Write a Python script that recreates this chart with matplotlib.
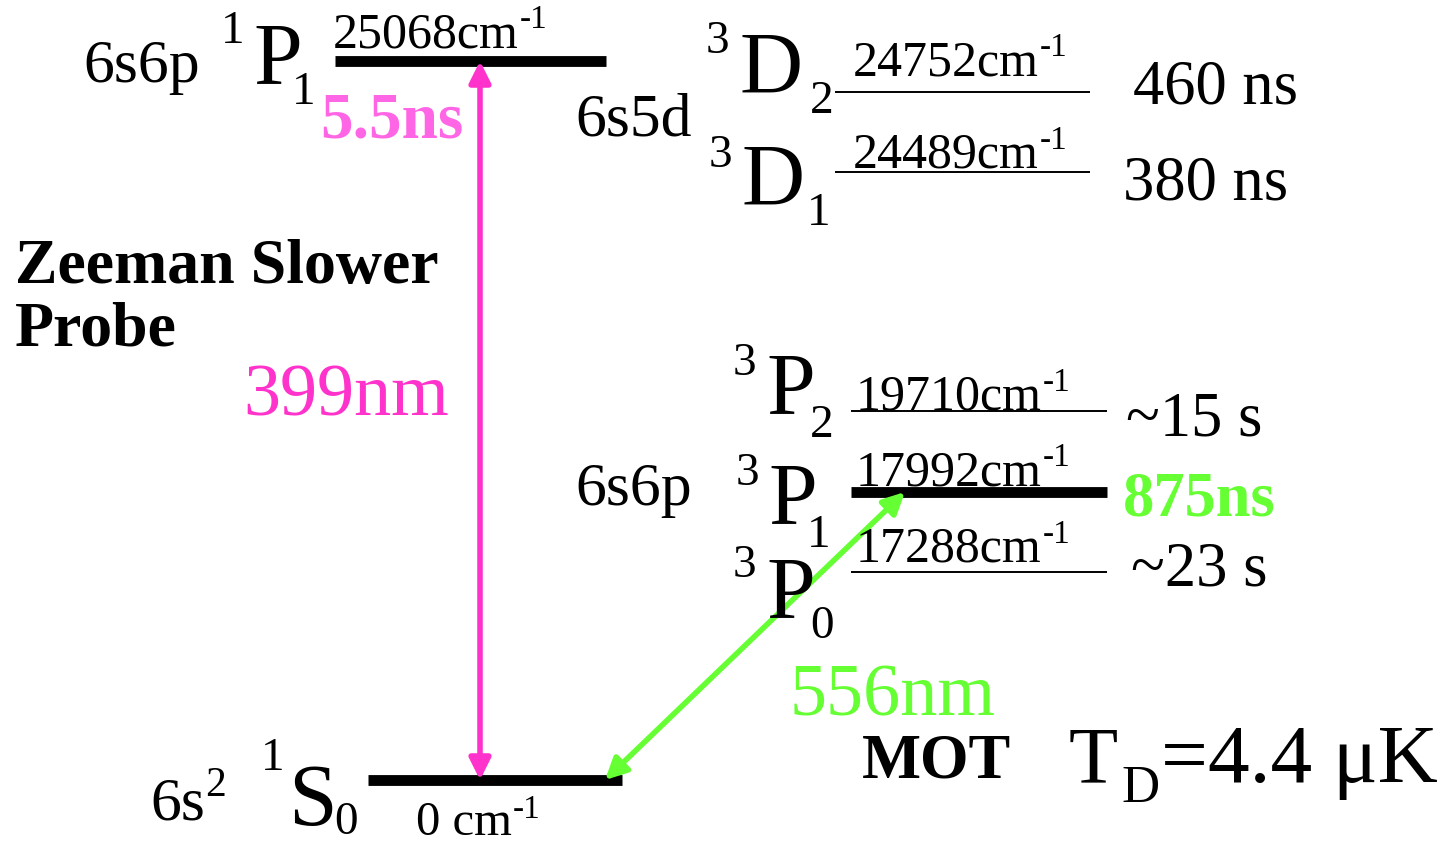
import matplotlib
matplotlib.use("Agg")
import matplotlib.pyplot as plt
from matplotlib.patches import FancyArrowPatch

# ---------------- data ----------------
level_names = ["1S0", "1P1", "3D2", "3D1", "3P2", "3P1", "3P0"]
level_energies = [0, 25068, 24752, 24489, 19710, 17992, 17288]  # cm^-1
level_configs = ["6s", "6s6p", "6s5d", "", "", "6s6p", ""]
config_sup = ["2", "", "", "", "", "", ""]
term_sup = ["1", "1", "3", "3", "3", "3", "3"]
term_letter = ["S", "P", "D", "D", "P", "P", "P"]
term_sub = ["0", "1", "2", "1", "2", "1", "0"]
lifetimes = ["", "5.5ns", "460 ns", "380 ns", "~15 s", "875ns", "~23 s"]
transitions = [("1S0", "1P1", "399nm"), ("1S0", "3P1", "556nm")]
mot_temperature = "4.4 μK"

# ---------------- layout (pixel coordinates of the schematic) ----------------
W, H = 1455, 843
FONT = "Liberation Serif"
PINK = "#ff33cc"
PINK_LIGHT = "#ff66e6"
GREEN = "#66ff33"

# schematic (not to scale) vertical placement, x-span, thickness of each level
ypos = {"1S0": 780, "1P1": 61, "3D2": 92, "3D1": 172, "3P2": 411, "3P1": 492, "3P0": 572}
xspan = {"1S0": (368, 622), "1P1": (335, 606), "3D2": (835, 1090), "3D1": (835, 1090),
         "3P2": (851, 1107), "3P1": (851, 1107), "3P0": (851, 1107)}
thick = {"1S0": 7.8, "1P1": 7.8, "3D2": 1.4, "3D1": 1.4, "3P2": 1.4, "3P1": 7.8, "3P0": 1.4}

fig = plt.figure(figsize=(W / 100, H / 100), dpi=100)
ax = fig.add_axes([0, 0, 1, 1])
ax.set_xlim(0, W)
ax.set_ylim(H, 0)
ax.axis("off")

# level lines
for name in level_names:
    x0, x1 = xspan[name]
    y = ypos[name]
    ax.plot([x0, x1], [y, y], color="black", lw=thick[name], solid_capstyle="butt", zorder=2)


def txt(x, y, s, size, color="black", weight="normal", ha="left"):
    return ax.text(x, y, s, fontsize=size, color=color, fontweight=weight, family=FONT,
                   ha=ha, va="baseline", zorder=4)


def sup_after(t, s, size, dx=1, dy=3, color="black"):
    ax.annotate(s, xy=(1, 1), xycoords=t, xytext=(dx, dy), textcoords="offset points",
                fontsize=size, family=FONT, color=color, ha="left", va="top", zorder=4)


# energy labels
en_lab_pos = {"1P1": (333, 47), "3D2": (853, 75), "3D1": (853, 168), "3P2": (856, 410),
              "3P1": (856, 485), "3P0": (856, 562)}
for name, e in zip(level_names, level_energies):
    if name == "1S0":
        t = txt(416, 835, "0 cm", 35)
    else:
        x, y = en_lab_pos[name]
        t = txt(x, y, f"{e}cm", 36)
    sup_after(t, "-1", 24, dx=0.5, dy=5)

# term symbols: (sup x, sup baseline, letter x, letter baseline, sub x, sub baseline)
term_pos = {
    "1P1": (221, 43, 253, 83, 292, 104),
    "1S0": (261, 770, 288, 825, 334, 834),
    "3D2": (706, 53, 740, 93, 810, 113),
    "3D1": (709, 167, 742, 205, 807, 225),
    "3P2": (733, 375, 766, 413, 810, 437),
    "3P1": (736, 485, 768, 523, 807, 547),
    "3P0": (733, 577, 766, 617, 810, 638),
}
for name, sp, L, sb in zip(level_names, term_sup, term_letter, term_sub):
    a, b, c, d, e, f = term_pos[name]
    txt(a, b, sp, 34)
    txt(c, d, L, 63)
    txt(e, f, sb, 34)

# configurations
cfg_pos = {"1S0": (150, 820), "1P1": (83, 82), "3D2": (575, 135), "3P1": (575, 505)}
for name, cfg, cs in zip(level_names, level_configs, config_sup):
    if cfg:
        x, y = cfg_pos[name]
        t = txt(x, y, cfg, 44.5)
        if cs:
            sup_after(t, cs, 30, dx=0, dy=8)

# lifetimes
life_pos = {"1P1": (320, 137, PINK_LIGHT, "bold", 47), "3D2": (1133, 103, "black", "normal", 45),
            "3D1": (1123, 200, "black", "normal", 45), "3P2": (1126, 435, "black", "normal", 45),
            "3P1": (1123, 515, GREEN, "bold", 45), "3P0": (1131, 585, "black", "normal", 45)}
for name, lt in zip(level_names, lifetimes):
    if lt:
        x, y, col, w, sz = life_pos[name]
        txt(x, y, lt, sz, color=col, weight=w)

# transitions (double-headed arrows)
arrow_x = {"399nm": (480, 480), "556nm": (605, 905)}
arrow_col = {"399nm": PINK, "556nm": GREEN}
for lo, hi, lab in transitions:
    xl, xh = arrow_x[lab]
    arr = FancyArrowPatch((xl, ypos[lo]), (xh, ypos[hi]), arrowstyle="<|-|>",
                          mutation_scale=32, lw=4, color=arrow_col[lab],
                          shrinkA=0, shrinkB=0, zorder=3)
    ax.add_patch(arr)

txt(243, 415, "399nm", 53.5, color=PINK)
txt(790, 715, "556nm", 53.5, color=GREEN)

# annotations
txt(15, 283, "Zeeman Slower", 46, weight="bold")
txt(15, 345, "Probe", 46, weight="bold")
txt(862, 778, "MOT", 45, weight="bold")
txt(1069, 782, "T", 58)
txt(1121, 802, "D", 38)
txt(1161, 782, "=" + mot_temperature, 60)

fig.savefig("out.png", dpi=100)
